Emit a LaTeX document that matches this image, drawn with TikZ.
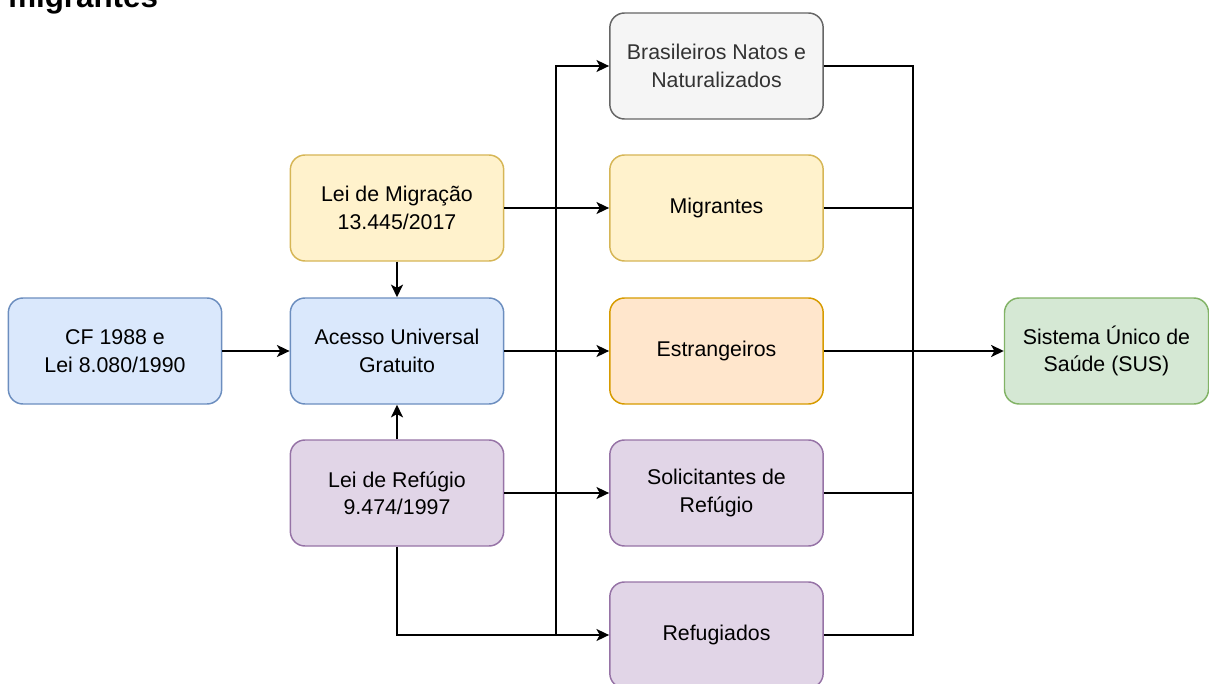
\documentclass[tikz,border=0pt]{standalone}
\usepackage{fontspec}
\setmainfont{Liberation Sans}
\usetikzlibrary{arrows.meta}

\definecolor{blueFill}{HTML}{DAE8FC}
\definecolor{blueLine}{HTML}{6C8EBF}
\definecolor{yellowFill}{HTML}{FFF2CC}
\definecolor{yellowLine}{HTML}{D6B656}
\definecolor{purpleFill}{HTML}{E1D5E7}
\definecolor{purpleLine}{HTML}{9673A6}
\definecolor{orangeFill}{HTML}{FFE6CC}
\definecolor{orangeLine}{HTML}{D79B00}
\definecolor{greenFill}{HTML}{D5E8D4}
\definecolor{greenLine}{HTML}{82B366}
\definecolor{grayFill}{HTML}{F5F5F5}
\definecolor{grayLine}{HTML}{666666}
\definecolor{grayText}{HTML}{333333}

\tikzset{
  box/.style={rectangle, rounded corners=11pt, line width=1.1pt,
    minimum width=160pt, minimum height=79.5pt, inner sep=0pt,
    align=center, font=\fontsize{16}{20.5}\selectfont},
  bluebox/.style={box, fill=blueFill, draw=blueLine},
  yellowbox/.style={box, fill=yellowFill, draw=yellowLine},
  purplebox/.style={box, fill=purpleFill, draw=purpleLine},
  orangebox/.style={box, fill=orangeFill, draw=orangeLine},
  greenbox/.style={box, fill=greenFill, draw=greenLine},
  graybox/.style={box, fill=grayFill, draw=grayLine, text=grayText},
  link/.style={line width=1.4pt, draw=black},
  arr/.style={link, -{Stealth[length=9.5pt, width=9pt, inset=2.5pt]}},
}

\begin{document}
\begin{tikzpicture}[x=0.75pt, y=-0.75pt]
\useasboundingbox (0,0) rectangle (1209,684);
\clip (0,0) rectangle (1209,684);

% heading, partly above the page edge
\node[anchor=base west, inner sep=0pt,
      font=\bfseries\fontsize{23.5}{28}\selectfont] (heading) at (8,7.5) {migrantes};

% legal basis
\node[bluebox]   (cf)  at (115,351) {CF 1988 e\\Lei 8.080/1990};
\node[bluebox]   (acc) at (397,351) {Acesso Universal\\Gratuito};
\node[yellowbox] (mig) at (397,208) {Lei de Migração\\13.445/2017};
\node[purplebox] (ref) at (397,493) {Lei de Refúgio\\9.474/1997};

% groups covered
\node[graybox]   (bra)  at (716.5,66)  {Brasileiros Natos e\\Naturalizados};
\node[yellowbox] (migr) at (716.5,208) {Migrantes};
\node[orangebox] (est)  at (716.5,351) {Estrangeiros};
\node[purplebox] (sol)  at (716.5,493) {Solicitantes de\\Refúgio};
\node[purplebox] (refg) at (716.5,635) {Refugiados};

% health system
\node[greenbox, minimum width=153pt] (sus) at (1106.5,351) {Sistema Único de\\Saúde (SUS)};

% junction points
\coordinate (split) at (556,635);
\coordinate (bus)   at (913,351);

% connectors
\draw[arr] (cf) -- (acc);
\draw[arr] (mig) -- (acc);
\draw[arr] (ref) -- (acc);
\draw[arr] (mig) -- (migr);
\draw[arr] (acc) -- (est);
\draw[arr] (ref) -- (sol);
\draw[arr] (ref.south) |- (refg.west);
\draw[arr] (split) |- (bra.west);

\draw[link] (bra.east)  -| (bus);
\draw[link] (migr.east) -| (bus);
\draw[link] (sol.east)  -| (bus);
\draw[link] (refg.east) -| (bus);
\draw[arr]  (est) -- (sus);
\end{tikzpicture}
\end{document}
